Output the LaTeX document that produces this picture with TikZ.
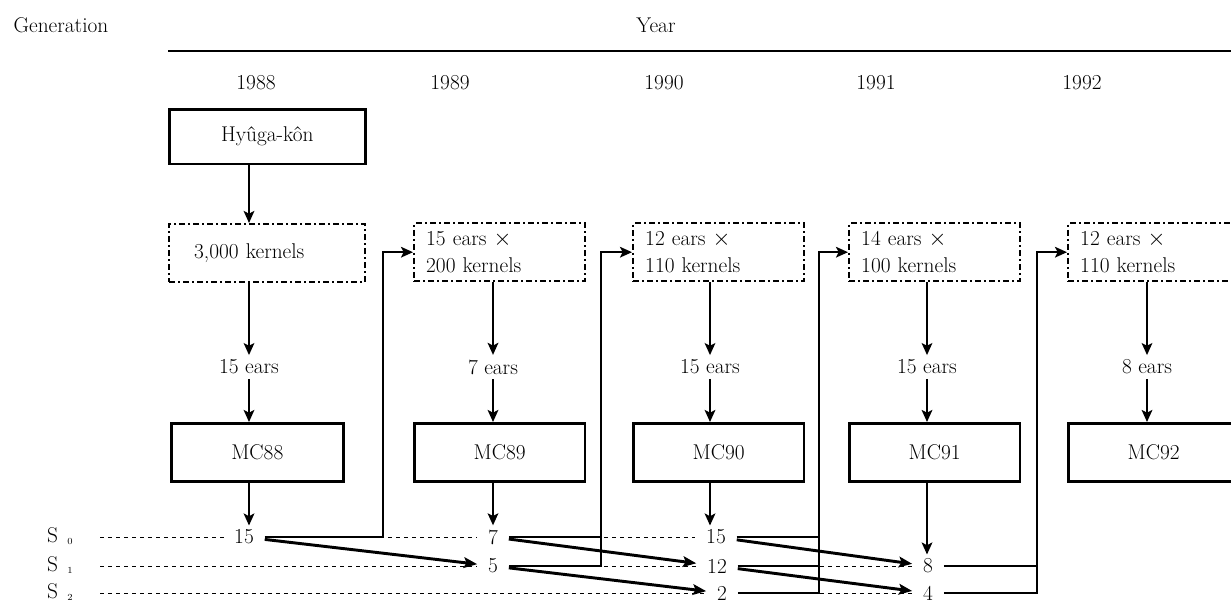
\documentclass[tikz,border=0pt]{standalone}
\usetikzlibrary{arrows.meta,backgrounds}
\begin{document}
\begin{tikzpicture}[x=0.75pt,y=-0.75pt,font=\fontsize{16}{20}\selectfont]
  \tikzstyle{box}=[draw,line width=2pt,anchor=north west,minimum width=128pt,minimum height=43.5pt,inner sep=0pt]
  \tikzstyle{seed}=[box,line width=1.8pt,dash pattern=on 4.5pt off 2.25pt on 1.5pt off 2.25pt,align=left,text width=110pt,inner xsep=9pt]
  \tikzstyle{num}=[fill=white,inner xsep=8pt,inner ysep=3pt]
  \tikzstyle{flow}=[draw,line width=1.5pt,-{Stealth[length=9pt,width=8pt,inset=2pt]}]
  \tikzstyle{cross}=[draw,line width=2.2pt,-{Stealth[length=10pt,width=8pt,inset=2pt]}]
  \tikzstyle{link}=[draw,line width=1.5pt]
  \tikzstyle{guide}=[draw,line width=0.7pt,dash pattern=on 3pt off 3pt]
  \useasboundingbox (0,0) rectangle (1231,603);

  % header
  \node (gen)  at (61,25)  {Generation};
  \node (year) at (656,25) {Year};
  \coordinate (ruleL) at (168,51);
  \coordinate (ruleR) at (1231,51);
  \draw[line width=1pt] (ruleL) -- (ruleR);
  \node (y88) at (256,83)  {1988};
  \node (y89) at (450,83)  {1989};
  \node (y90) at (664,83)  {1990};
  \node (y91) at (876,83)  {1991};
  \node (y92) at (1082,83) {1992};

  % boxes
  \node[box,minimum width=147pt,minimum height=41pt] (hyuga) at (168,108) {Hy\^uga-k\^on};
  \node[seed,text width=109.5pt,inner xsep=18.75pt] (kern88) at (168,223) {3,000 kernels};
  \node[seed] (kern89) at (413,222)  {15 ears $\times$\\200 kernels};
  \node[seed] (kern90) at (632,222)  {12 ears $\times$\\110 kernels};
  \node[seed] (kern91) at (848,222)  {14 ears $\times$\\100 kernels};
  \node[seed] (kern92) at (1067,222) {12 ears $\times$\\110 kernels};

  \node (ears88) at (249,367)  {15 ears};
  \node (ears89) at (493,367)  {7 ears};
  \node (ears90) at (710,367)  {15 ears};
  \node (ears91) at (927,367)  {15 ears};
  \node (ears92) at (1147,367) {8 ears};

  \node[box,minimum width=129pt] (mc88) at (170,422) {MC88};
  \node[box] (mc89) at (413,422)  {MC89};
  \node[box] (mc90) at (632,422)  {MC90};
  \node[box] (mc91) at (848,422)  {MC91};
  \node[box] (mc92) at (1067,422) {MC92};

  % generations
  \node (S0) at (60,536) {S\hspace{7pt}\raisebox{-1pt}{\scriptsize 0}};
  \node (S1) at (60,565) {S\hspace{7pt}\raisebox{-1pt}{\scriptsize 1}};
  \node (S2) at (60,592) {S\hspace{7pt}\raisebox{-1pt}{\scriptsize 2}};
  \coordinate (g0) at (100,537);
  \coordinate (g1) at (100,566);
  \coordinate (g2) at (100,593);

  \node[num] (s0a) at (244,537) {15};
  \node[num] (s0b) at (493,537) {7};
  \node[num] (s1b) at (493,566) {5};
  \node[num] (s0c) at (716,537) {15};
  \node[num] (s1c) at (717,566) {12};
  \node[num] (s2c) at (722,593) {2};
  \node[num] (s1d) at (928,566) {8};
  \node[num] (s2d) at (928,593) {4};

  \begin{scope}[on background layer]
    \draw[guide] (g0) -- (s0c);
    \draw[guide] (g1) -- (s1d);
    \draw[guide] (g2) -- (s2d);
  \end{scope}

  % down the columns
  \draw[flow] (hyuga.south -| ears88) -- (kern88.north -| ears88);
  \foreach \c in {88,89,90,91,92}{
    \draw[flow] (kern\c.south -| ears\c) -- (ears\c);
    \draw[flow] (ears\c) -- (mc\c.north -| ears\c);
  }
  \draw[flow] (mc88.south -| ears88) -- (s0a.north -| ears88);
  \draw[flow] (mc89.south -| ears89) -- (s0b.north -| ears89);
  \draw[flow] (mc90.south -| ears90) -- (s0c.north -| ears90);
  \draw[flow] (mc91.south -| ears91) -- (s1d.north -| ears91);

  % back to next year
  \coordinate (v88) at (383,537);
  \coordinate (v89) at (601,537);
  \coordinate (v90) at (819,537);
  \coordinate (v91) at (1037,566);
  \draw[flow] (s0a) -- (v88) |- (kern89.west);
  \draw[flow] (s0b) -- (v89) |- (kern90.west);
  \draw[link] (s1b) -| (v89);
  \draw[flow] (s0c) -- (v90) |- (kern91.west);
  \draw[link] (s1c) -| (v90);
  \draw[link] (s2c) -| (v90);
  \draw[flow] (s1d) -- (v91) |- (kern92.west);
  \draw[link] (s2d) -| (v91);

  % next generation
  \draw[cross] (s0a) -- (s1b);
  \draw[cross] (s0b) -- (s1c);
  \draw[cross] (s1b) -- (s2c);
  \draw[cross] (s0c) -- (s1d);
  \draw[cross] (s1c) -- (s2d);
\end{tikzpicture}
\end{document}
